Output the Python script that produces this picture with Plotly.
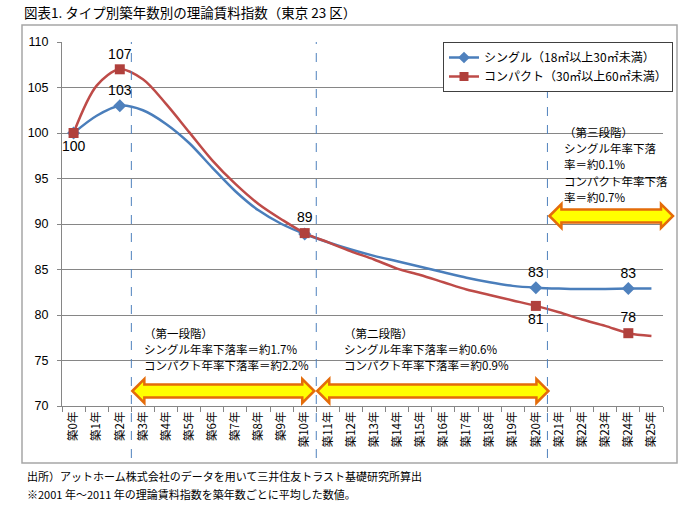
import plotly.graph_objects as go

# ---------------- data ----------------
years = list(range(26))
categories = [f"築{y}年" for y in years]
single = [100, 101.9, 103.0, 102.5, 101.0, 98.9, 96.2, 93.6, 91.5, 90.0,
          88.9, 88.0, 87.2, 86.5, 85.9, 85.3, 84.7, 84.1, 83.6, 83.2,
          83.0, 82.9, 82.85, 82.85, 82.9, 82.9]
compact = [100, 105.2, 107.0, 105.9, 103.2, 100.1, 97.0, 94.4, 92.2, 90.5,
           89.0, 88.0, 87.0, 86.1, 85.1, 84.4, 83.6, 82.8, 82.2, 81.6,
           81.0, 80.3, 79.5, 78.8, 78.0, 77.7]
marked = [0, 2, 10, 20, 24]
single_label_idx = [2, 20, 24]
compact_label_idx = [0, 2, 10, 20, 24]
compact_label_pos = ["bottom center", "top center", "top center", "bottom center", "top center"]
stage_bounds = [2.5, 10.5, 20.5]
stage_texts = [
    ["（第一段階）", "シングル年率下落率＝約1.7%", "コンパクト年率下落率＝約2.2%"],
    ["（第二段階）", "シングル年率下落率＝約0.6%", "コンパクト年率下落率＝約0.9%"],
    ["（第三段階）", "シングル年率下落", "率＝約0.1%", "コンパクト年率下落", "率＝約0.7%"],
]
name_single = "シングル（18㎡以上30㎡未満）"
name_compact = "コンパクト（30㎡以上60㎡未満）"
title = "図表1. タイプ別築年数別の理論賃料指数（東京 23 区）"
notes = ["出所）アットホーム株式会社のデータを用いて三井住友トラスト基礎研究所算出",
         "※2001 年～2011 年の理論賃料指数を築年数ごとに平均した数値。"]

# ---------------- layout geometry ----------------
FIG_W, FIG_H = 700, 515
L, R = 62, 663
T, B = 42, 406
W, H = R - L, B - T
N = len(categories)


def px2x(p):
    return (p - L) / W


def py2y(p):
    return (B - p) / H


def cat2px(i):
    return L + (i + 0.5) * W / N


BLUE = "#4A7EBB"
RED = "#BE4B48"
FONT = "Liberation Sans, Noto Sans CJK JP"
JFONT = "Noto Sans CJK JP"

fig = go.Figure()

fig.add_trace(go.Scatter(x=categories, y=single, mode="lines",
                         line=dict(color=BLUE, width=2.5, shape="spline", smoothing=0.9),
                         showlegend=False, hoverinfo="skip"))
fig.add_trace(go.Scatter(x=categories, y=compact, mode="lines",
                         line=dict(color=RED, width=2.5, shape="spline", smoothing=0.9),
                         showlegend=False, hoverinfo="skip"))

fig.add_trace(go.Scatter(
    x=[categories[i] for i in marked], y=[single[i] for i in marked],
    mode="markers+text",
    marker=dict(symbol="diamond", size=10, color="#4F81BD"),
    text=[str(round(single[i])) if i in single_label_idx else "" for i in marked],
    textposition="top center",
    textfont=dict(family=FONT, size=14, color="black"),
    showlegend=False))
fig.add_trace(go.Scatter(
    x=[categories[i] for i in compact_label_idx], y=[compact[i] for i in compact_label_idx],
    mode="markers+text",
    marker=dict(symbol="square", size=10, color="#B0403C"),
    text=[str(round(compact[i])) for i in compact_label_idx],
    textposition=compact_label_pos,
    textfont=dict(family=FONT, size=14, color="black"),
    showlegend=False))

# legend-only traces
fig.add_trace(go.Scatter(x=[None], y=[None], mode="lines+markers", name=name_single,
                         line=dict(color=BLUE, width=2.5),
                         marker=dict(symbol="diamond", size=9, color="#4F81BD")))
fig.add_trace(go.Scatter(x=[None], y=[None], mode="lines+markers", name=name_compact,
                         line=dict(color=RED, width=2.5),
                         marker=dict(symbol="square", size=9, color="#B0403C")))

shapes = []
# outer border
shapes.append(dict(type="rect", xref="paper", yref="paper",
                   x0=px2x(22), x1=px2x(677), y0=py2y(463), y1=py2y(25),
                   line=dict(color="#A6A6A6", width=1.5), layer="below"))
# stage dividers
for b in stage_bounds:
    xp = px2x(cat2px(b))
    shapes.append(dict(type="line", xref="paper", yref="paper",
                       x0=xp, x1=xp, y0=py2y(458), y1=py2y(T),
                       line=dict(color="#4F81BD", width=1, dash="dash")))


def double_arrow(x0, x1, yc, hh=12, bh=6.5, hl=12):
    pts = [(x0, yc), (x0 + hl, yc - hh), (x0 + hl, yc - bh), (x1 - hl, yc - bh),
           (x1 - hl, yc - hh), (x1, yc), (x1 - hl, yc + hh), (x1 - hl, yc + bh),
           (x0 + hl, yc + bh), (x0 + hl, yc + hh)]
    d = "M " + " L ".join(f"{px2x(x):.5f},{py2y(y):.5f}" for x, y in pts) + " Z"
    return dict(type="path", xref="paper", yref="paper", path=d,
                fillcolor="#FFFF00", line=dict(color="#E46C0A", width=2.5))


shapes.append(double_arrow(cat2px(stage_bounds[0]) + 1, cat2px(stage_bounds[1]) - 2, 391))
shapes.append(double_arrow(cat2px(stage_bounds[1]) + 1, cat2px(stage_bounds[2]) + 1, 391))
shapes.append(double_arrow(cat2px(stage_bounds[2]) + 2, 673, 216))

annotations = []
annotations.append(dict(text=title, xref="paper", yref="paper", x=px2x(22), y=py2y(12),
                        xanchor="left", yanchor="middle", showarrow=False,
                        font=dict(family=JFONT, size=13.5, color="black")))
for k, line in enumerate(notes):
    annotations.append(dict(text=line, xref="paper", yref="paper", x=px2x(25), y=py2y(476 + 18 * k),
                            xanchor="left", yanchor="middle", showarrow=False,
                            font=dict(family=JFONT, size=11, color="black")))

stage_pos = [(142, 333), (342, 333), (562, 132)]
for (sx, sy), lines in zip(stage_pos, stage_texts):
    for k, line in enumerate(lines):
        annotations.append(dict(text=line, xref="paper", yref="paper", x=px2x(sx), y=py2y(sy + 16.2 * k),
                                xanchor="left", yanchor="middle", showarrow=False,
                                font=dict(family=JFONT, size=11.5, color="black")))

fig.update_layout(
    width=FIG_W, height=FIG_H,
    margin=dict(l=L, r=FIG_W - R, t=T, b=FIG_H - B, pad=0),
    paper_bgcolor="white", plot_bgcolor="white",
    font=dict(family=FONT, color="black"),
    shapes=shapes, annotations=annotations,
    legend=dict(x=px2x(443), y=py2y(42), xanchor="left", yanchor="top",
                bordercolor="#404040", borderwidth=1, bgcolor="white",
                font=dict(family=JFONT, size=12, color="black"),
                itemwidth=30, tracegroupgap=4),
    xaxis=dict(type="category", range=[-0.5, N - 0.5], tickson="boundaries",
               ticks="outside", ticklen=5, tickcolor="#868686",
               showline=True, linecolor="#868686", linewidth=1,
               showgrid=False, tickangle=-90,
               tickfont=dict(family=JFONT, size=11.5, color="black")),
    yaxis=dict(range=[70, 110], dtick=5, ticks="outside", ticklen=4, tickcolor="#868686",
               showline=True, linecolor="#868686", linewidth=1,
               showgrid=True, gridcolor="#868686", gridwidth=1,
               ticklabelstandoff=6, zeroline=False,
               tickfont=dict(family=FONT, size=12.5, color="black")),
)

fig.write_html("out.html", config={"displayModeBar": False},
               post_script="document.body.style.margin='0';document.body.style.overflow='hidden';")
